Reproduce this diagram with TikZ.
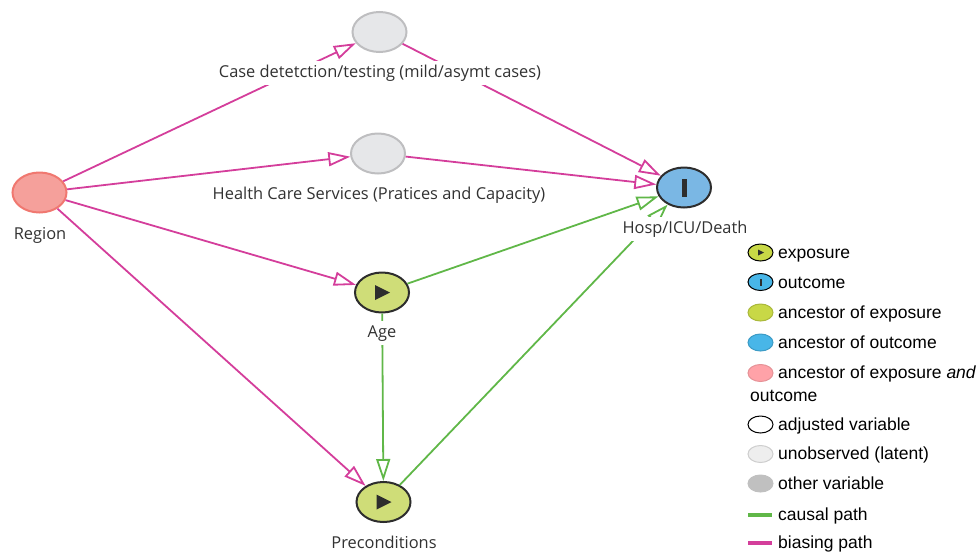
\documentclass[tikz,border=0pt]{standalone}
\usepackage{fontspec}
\setmainfont{Liberation Sans}
\newfontfamily\dagfont{Open Sans}
\usetikzlibrary{shapes.geometric,arrows.meta,positioning}

\definecolor{biasing}{RGB}{212,62,155}
\definecolor{causal}{RGB}{96,183,72}
\definecolor{expfill}{RGB}{207,221,120}
\definecolor{outfill}{RGB}{122,183,228}
\definecolor{regfill}{RGB}{245,160,155}
\definecolor{regedge}{RGB}{240,120,112}
\definecolor{latfill}{RGB}{230,231,233}
\definecolor{latedge}{RGB}{190,190,192}
\definecolor{nodeedge}{RGB}{45,45,45}
\definecolor{labeltext}{RGB}{50,50,50}
\definecolor{legexpfill}{RGB}{200,216,70}
\definecolor{legoutfill}{RGB}{72,182,232}
\definecolor{legbothfill}{RGB}{255,162,168}
\definecolor{leglatfill}{RGB}{238,238,238}
\definecolor{leglatedge}{RGB}{206,206,206}
\definecolor{legotherfill}{RGB}{192,192,192}

\begin{document}
\begin{tikzpicture}[x=1pt,y=-1pt,
  var/.style={ellipse,minimum width=54pt,minimum height=40pt,inner sep=0pt,line width=2pt},
  exposure/.style={var,fill=expfill,draw=nodeedge,
    path picture={\fill[nodeedge] ([xshift=-7pt,yshift=7.5pt]path picture bounding box.center)
      -- ++(15pt,-7.5pt) -- ++(-15pt,-7.5pt) -- cycle;}},
  outcome/.style={var,fill=outfill,draw=nodeedge,
    path picture={\fill[nodeedge] ([xshift=-2.5pt,yshift=-9pt]path picture bounding box.center)
      rectangle ++(5pt,18pt);}},
  latent/.style={var,fill=latfill,draw=latedge},
  ancboth/.style={var,fill=regfill,draw=regedge},
  biaspath/.style={draw=biasing,line width=1.8pt,-{Triangle[open,length=22pt,width=14pt]}},
  causalpath/.style={draw=causal,line width=1.8pt,-{Triangle[open,length=22pt,width=14pt]}},
  varlabel/.style={fill=white,text=labeltext,font=\dagfont\fontsize{16.4}{16.4}\selectfont,inner sep=4pt,anchor=base},
  legicon/.style={ellipse,minimum width=25pt,minimum height=17pt,inner sep=0pt,line width=1pt},
  legtext/.style={anchor=base west,inner sep=0pt,font=\fontsize{17.5}{21}\selectfont},
  legline/.style={line width=4pt}]
\useasboundingbox (0,0) rectangle (979,552);

% variables
\node[ancboth] (region) at (39.5,192.5) {};
\node[latent] (casedet) at (379.5,32) {};
\node[latent] (health) at (378,153.5) {};
\node[outcome] (hosp) at (684,187.5) {};
\node[exposure] (age) at (382,292.5) {};
\node[exposure] (precond) at (383.5,502) {};

% arrows
\draw[biaspath] (region) -- (casedet);
\draw[biaspath] (region) -- (health);
\draw[biaspath] (region) -- (age);
\draw[biaspath] (region) -- (precond);
\draw[biaspath] (casedet) -- (hosp);
\draw[biaspath] (health) -- (hosp);
\draw[causalpath] (age) -- (hosp);
\draw[causalpath] (precond) -- (hosp);
\draw[causalpath] (age) -- (precond);

% labels
\node[varlabel] (regionlab) at (40,239) {Region};
\node[varlabel] (casedetlab) at (380,77) {Case detetction/testing (mild/asymt cases)};
\node[varlabel] (healthlab) at (379,199) {Health Care Services (Pratices and Capacity)};
\node[varlabel] (hosplab) at (685,233) {Hosp/ICU/Death};
\node[varlabel] (agelab) at (382,337) {Age};
\node[varlabel] (precondlab) at (384,548) {Preconditions};

% legend
\node[legicon,fill=legexpfill,draw=black,
  path picture={\fill[nodeedge] ([xshift=-2.5pt,yshift=3pt]path picture bounding box.center)
    -- ++(6pt,-3pt) -- ++(-6pt,-3pt) -- cycle;}] (legexp) at (760.5,252.5) {};
\node[legtext] (legexptext) at (778,258) {exposure};
\node[legicon,fill=legoutfill,draw=black,
  path picture={\fill[nodeedge] ([xshift=-1pt,yshift=-3.5pt]path picture bounding box.center)
    rectangle ++(2pt,7pt);}] (legout) at (760.5,282) {};
\node[legtext] (legouttext) at (778,288) {outcome};
\node[legicon,fill=legexpfill,draw=legexpfill!85!black] (legancexp) at (760.5,312.5) {};
\node[legtext] (legancexptext) at (778,318) {ancestor of exposure};
\node[legicon,fill=legoutfill,draw=legoutfill!85!black] (legancout) at (760.5,342.5) {};
\node[legtext] (legancouttext) at (778,348) {ancestor of outcome};
\node[legicon,fill=legbothfill,draw=legbothfill!90!black] (legboth) at (760.5,373) {};
\node[legtext] (legbothtext) at (778,378.5) {ancestor of exposure \textit{and}};
\node[legtext] (legbothtext2) at (750,401) {outcome};
\node[legicon,fill=white,draw=black] (legadj) at (760.5,424.5) {};
\node[legtext] (legadjtext) at (778,430) {adjusted variable};
\node[legicon,fill=leglatfill,draw=leglatedge] (leglat) at (760.5,454) {};
\node[legtext] (leglattext) at (778,459.5) {unobserved (latent)};
\node[legicon,fill=legotherfill,draw=legotherfill] (legother) at (760.5,483.5) {};
\node[legtext] (legothertext) at (778,489) {other variable};
\coordinate (causalA) at (748,515);
\coordinate (causalB) at (772,515);
\draw[legline,causal] (causalA) -- (causalB);
\node[legtext] (legcausaltext) at (778,520) {causal path};
\coordinate (biasA) at (748,543);
\coordinate (biasB) at (772,543);
\draw[legline,biasing] (biasA) -- (biasB);
\node[legtext] (legbiastext) at (778,548) {biasing path};
\end{tikzpicture}
\end{document}
